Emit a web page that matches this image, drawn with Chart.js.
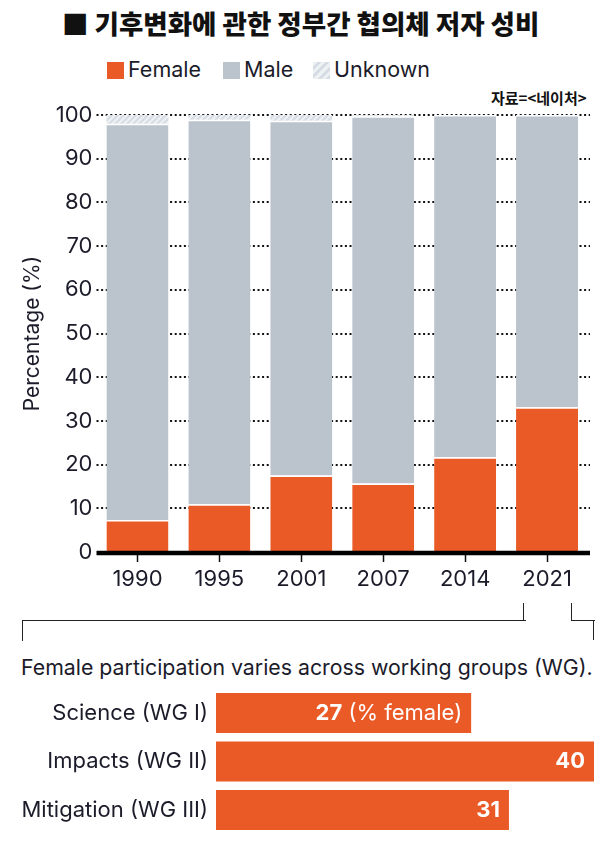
<!DOCTYPE html>
<html>
<head>
<meta charset="utf-8">
<script src="https://cdn.jsdelivr.net/npm/chart.js@4.4.1/dist/chart.umd.min.js"></script>
<style>
    html, body { margin: 0; padding: 0; background: #fff; }
    body { width: 610px; height: 842px; position: relative; overflow: hidden; font-family: Inter, sans-serif; color: #1b1b2a; }
    .title { position: absolute; left: 62px; top: 3px; font-family: "Noto Sans CJK KR", sans-serif; font-weight: 900; font-size: 26.5px; color: #111; white-space: nowrap; }
    .legend { position: absolute; top: 56px; left: 0; font-size: 21.5px; white-space: nowrap; }
    .legend .sw { position: absolute; top: 6px; width: 17px; height: 17px; }
    .legend .lab { position: absolute; top: 0; }
    .source { position: absolute; left: 491px; top: 87px; font-family: "Noto Sans CJK KR", sans-serif; font-weight: 700; font-size: 15px; color: #111; white-space: nowrap; }
    .sub { position: absolute; left: 21px; top: 654px; font-size: 21.3px; white-space: nowrap; }
    .bracket { position: absolute; border-color: #222; border-style: solid; border-width: 0; }
    #mainWrap { position: absolute; left: 0; top: 95px; width: 610px; height: 510px; }
    #wgWrap { position: absolute; left: 0; top: 680px; width: 610px; height: 162px; }
</style>
</head>
<body>
<div class="title">■ 기후변화에 관한 정부간 협의체 저자 성비</div>
<div class="legend">
    <span class="sw" style="left:107px; background:#ea5a27"></span><span class="lab" style="left:128px">Female</span>
    <span class="sw" style="left:223px; background:#bbc3cc"></span><span class="lab" style="left:244px">Male</span>
    <span class="sw" style="left:313px; background:repeating-linear-gradient(135deg,#eef1f4 0 3px,#d6dce3 3px 6px)"></span><span class="lab" style="left:334px">Unknown</span>
</div>
<div class="source">자료=&lt;네이처&gt;</div>

<div id="mainWrap"><canvas id="mainChart"></canvas></div>

<div class="bracket" style="left:22px; top:620px; width:503px; height:20px; border-top-width:1.5px; border-left-width:1.5px;"></div>
<div class="bracket" style="left:523px; top:603px; width:0; height:18px; border-left-width:1.5px;"></div>
<div class="bracket" style="left:571px; top:603px; width:23px; height:17px; border-left-width:1.5px; border-bottom-width:1.5px;"></div>
<div class="bracket" style="left:593px; top:620px; width:0; height:20px; border-left-width:1.5px;"></div>

<div class="sub">Female participation varies across working groups (WG).</div>
<div id="wgWrap"><canvas id="wgChart"></canvas></div>

<script>
// data
const years = ['1990', '1995', '2001', '2007', '2014', '2021'];
const femaleShare = [7.3, 10.9, 17.5, 15.7, 21.7, 33.1];
const maleShare = [90.7, 88.0, 81.2, 84.0, 78.3, 66.9];
const unknownShare = [2.0, 1.1, 1.3, 0.3, 0, 0];
const yTicks = [0, 10, 20, 30, 40, 50, 60, 70, 80, 90, 100];

const groups = ['Science (WG I)', 'Impacts (WG II)', 'Mitigation (WG III)'];
const groupFemale = [27, 40, 31];

const colors = {
    female: '#ea5a27',
    male: '#bbc3cc',
    text: '#1b1b2a'
};

Chart.defaults.font.family = 'Inter, sans-serif';
Chart.defaults.color = colors.text;
Chart.defaults.animation = false;

// hatched fill for the "unknown" slice
function makeHatch() {
    const c = document.createElement('canvas');
    c.width = 6; c.height = 6;
    const g = c.getContext('2d');
    g.fillStyle = '#eef1f4';
    g.fillRect(0, 0, 6, 6);
    g.strokeStyle = '#d6dce3';
    g.lineWidth = 2;
    g.beginPath();
    g.moveTo(-1, 7); g.lineTo(7, -1);
    g.moveTo(-1, 1); g.lineTo(1, -1);
    g.moveTo(5, 7); g.lineTo(7, 5);
    g.stroke();
    return g.createPattern(c, 'repeat');
}

// dotted grid, heavy baseline, rotated axis title
const mainDecor = {
    id: 'mainDecor',
    beforeDatasetsDraw(chart) {
        const { ctx, scales: { y }, chartArea } = chart;
        ctx.save();
        ctx.strokeStyle = '#111';
        ctx.lineWidth = 2;
        ctx.setLineDash([2, 2.6]);
        yTicks.forEach(v => {
            if (v === 0) return;
            const py = Math.round(y.getPixelForValue(v));
            ctx.beginPath();
            ctx.moveTo(chartArea.left, py);
            ctx.lineTo(chartArea.right + 2, py);
            ctx.stroke();
        });
        ctx.restore();
    },
    afterDatasetsDraw(chart) {
        const { ctx, scales: { y }, chartArea } = chart;
        ctx.save();
        const py = y.getPixelForValue(0) + 1;
        ctx.strokeStyle = '#000';
        ctx.lineWidth = 4.5;
        ctx.beginPath();
        ctx.moveTo(chartArea.left, py);
        ctx.lineTo(chartArea.right + 2, py);
        ctx.stroke();

        ctx.translate(33, (chartArea.top + chartArea.bottom) / 2);
        ctx.rotate(-Math.PI / 2);
        ctx.fillStyle = colors.text;
        ctx.font = '21px Inter, sans-serif';
        ctx.textAlign = 'center';
        ctx.textBaseline = 'middle';
        ctx.fillText('Percentage (%)', 0, 0);
        ctx.restore();
    }
};

const topBorder = { top: 1.5, right: 0, bottom: 0, left: 0 };

new Chart(document.getElementById('mainChart'), {
    type: 'bar',
    data: {
        labels: years,
        datasets: [
            { label: 'Female', data: femaleShare, backgroundColor: colors.female, borderColor: '#fff', borderWidth: topBorder },
            { label: 'Male', data: maleShare, backgroundColor: colors.male, borderColor: '#fff', borderWidth: topBorder },
            { label: 'Unknown', data: unknownShare, backgroundColor: makeHatch(), borderWidth: 0 }
        ]
    },
    options: {
        responsive: true,
        maintainAspectRatio: false,
        layout: { padding: { top: 20, right: 22, left: 0, bottom: 0 } },
        datasets: { bar: { barPercentage: 0.757, categoryPercentage: 1 } },
        plugins: { legend: { display: false }, tooltip: { enabled: false } },
        scales: {
            x: {
                stacked: true,
                border: { display: false },
                grid: { drawOnChartArea: false, drawTicks: true, offset: false, tickLength: 10, tickWidth: 1.5, tickColor: '#111', color: '#111' },
                ticks: { font: { size: 22 }, padding: 4, color: colors.text },
                afterFit(scale) { scale.height = 53; }
            },
            y: {
                stacked: true,
                min: 0,
                max: 100,
                border: { display: false },
                grid: { display: false, drawTicks: false },
                afterBuildTicks(scale) { scale.ticks = yTicks.map(v => ({ value: v })); },
                ticks: { font: { size: 22 }, padding: 4, color: colors.text },
                afterFit(scale) { scale.width = 96.5; }
            }
        }
    },
    plugins: [mainDecor]
});

// white value labels at the bar ends
const valueLabels = {
    id: 'valueLabels',
    afterDatasetsDraw(chart) {
        const { ctx } = chart;
        const meta = chart.getDatasetMeta(0);
        ctx.save();
        ctx.fillStyle = '#fff';
        ctx.textBaseline = 'middle';
        ctx.textAlign = 'right';
        meta.data.forEach((bar, i) => {
            let x = bar.x - 9;
            if (i === 0) {
                ctx.font = '22px Inter, sans-serif';
                const note = ' (% female)';
                ctx.fillText(note, x, bar.y);
                x -= ctx.measureText(note).width;
            }
            ctx.font = 'bold 22px Inter, sans-serif';
            ctx.fillText(String(groupFemale[i]), x, bar.y);
        });
        ctx.restore();
    }
};

new Chart(document.getElementById('wgChart'), {
    type: 'bar',
    data: {
        labels: groups,
        datasets: [{ data: groupFemale, backgroundColor: colors.female, borderWidth: 0 }]
    },
    options: {
        indexAxis: 'y',
        responsive: true,
        maintainAspectRatio: false,
        layout: { padding: { top: 8.75, bottom: 7.75, right: 16, left: 0 } },
        datasets: { bar: { barPercentage: 0.825, categoryPercentage: 1 } },
        plugins: { legend: { display: false }, tooltip: { enabled: false } },
        scales: {
            x: { min: 0, max: 40, display: false },
            y: {
                border: { display: false },
                grid: { display: false, drawTicks: false },
                ticks: { font: { size: 22 }, padding: 8, color: colors.text },
                afterFit(scale) {
                    scale.width = 216;
                    scale.paddingTop = 0;
                    scale.paddingBottom = 0;
                }
            }
        }
    },
    plugins: [valueLabels]
});
</script>
</body>
</html>
